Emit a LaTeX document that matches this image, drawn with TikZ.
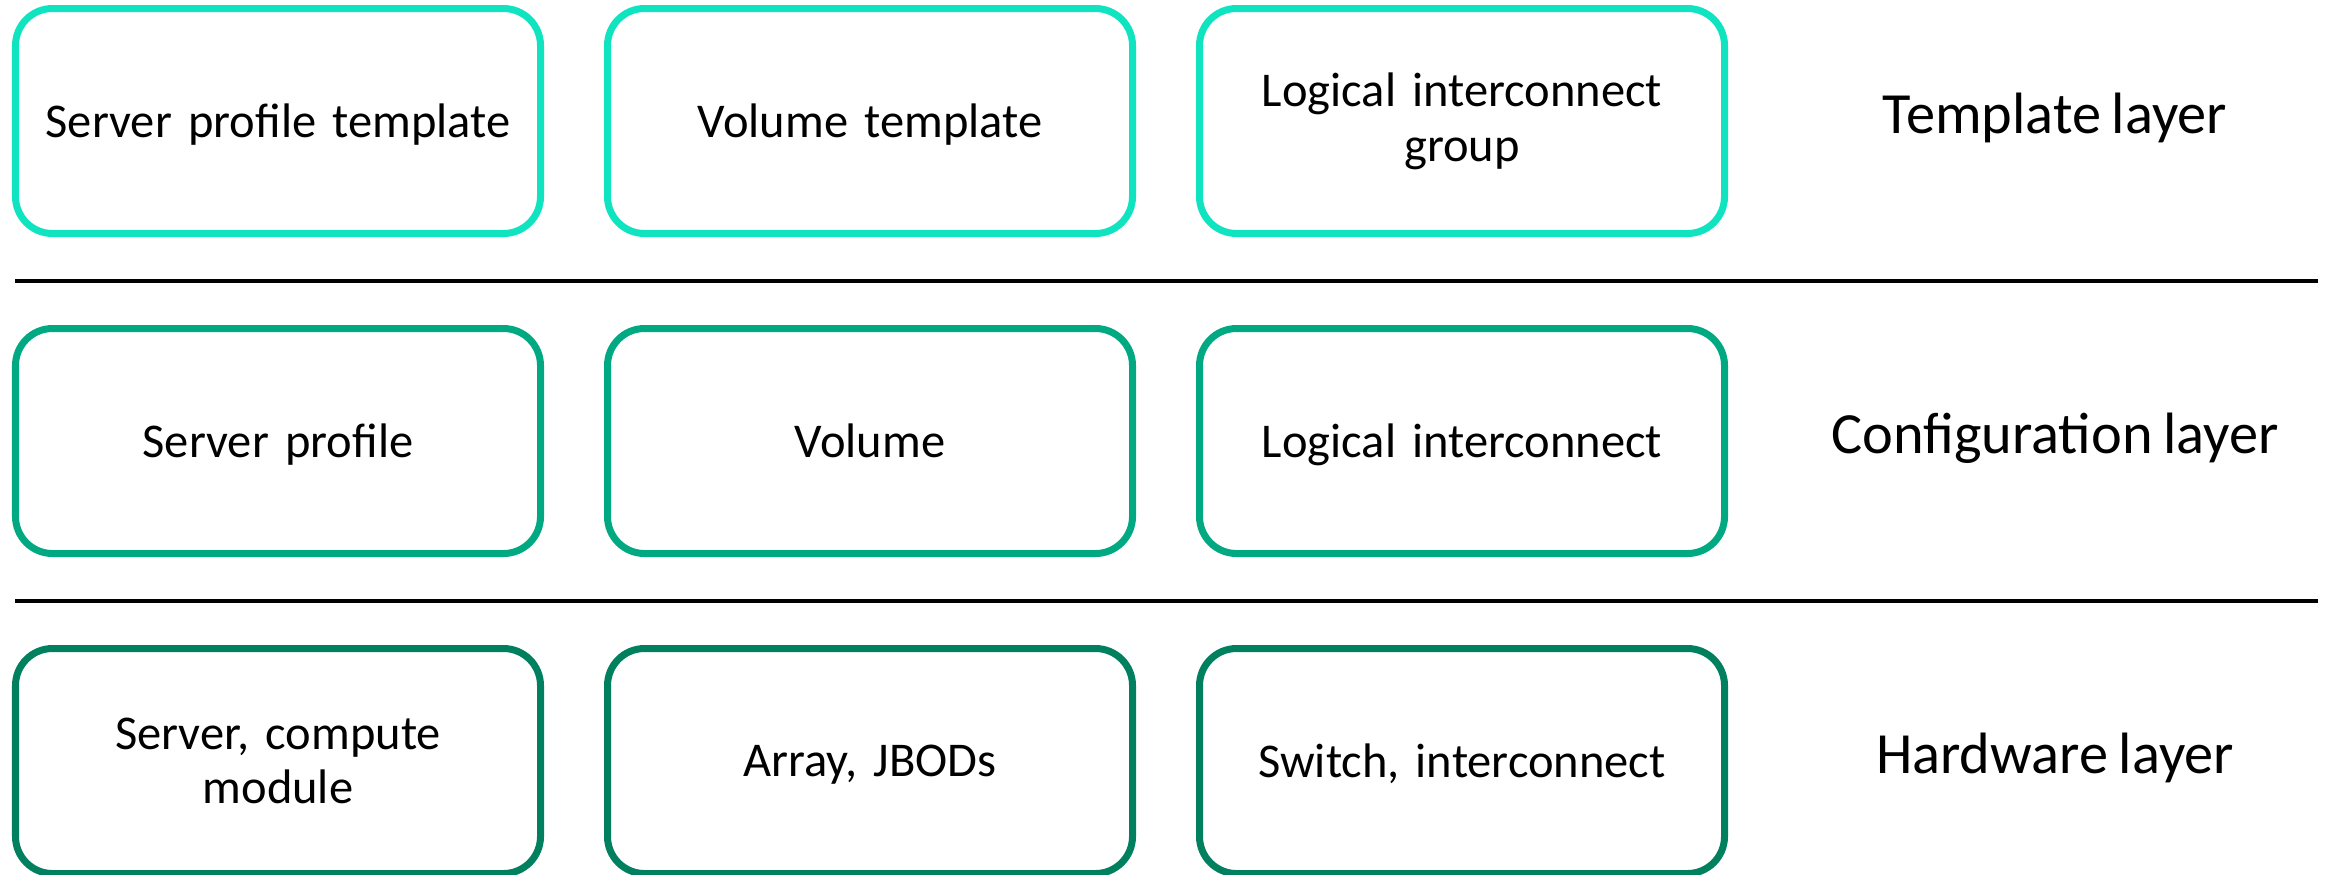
\documentclass[tikz,border=0pt]{standalone}
\usepackage{fontspec}
\setmainfont[WordSpace=0.8]{Carlito}
\definecolor{tealtop}{HTML}{0FE3C0}
\definecolor{tealmid}{HTML}{01A982}
\definecolor{tealbot}{HTML}{01805F}
\begin{document}
\begin{tikzpicture}

      \tikzset{layerbox/.style={draw, rounded corners=0.37cm, line width=0.07cm, inner sep=0pt, minimum width=5.25cm, minimum height=2.25cm, text width=4.9cm, align=center, font=\fontsize{13.8}{15.6}\selectfont},
               oneline/.style={layerbox, text depth=0pt},
               layername/.style={font=\fontsize{16.6}{19}\selectfont},
               divider/.style={line width=0.04cm}}
      \useasboundingbox (0,0) rectangle (23.25,-8.74);
%% Template layer
      	\node[oneline, draw=tealtop] (spt) at (2.78,-1.21) {Server profile template};
      	\node[oneline, draw=tealtop] (vt) at (8.70,-1.21) {Volume template};
    	\node[layerbox, draw=tealtop] (lig) at (14.62,-1.21) {Logical interconnect\\group};
  	    \node[layername] (tl) at (20.55,-1.18) {Template layer};
%% Configuration layer
      	\node[oneline, draw=tealmid] (sp) at (2.78,-4.41) {Server profile};
      	\node[oneline, draw=tealmid] (vol) at (8.70,-4.41) {Volume};
    	\node[oneline, draw=tealmid] (li) at (14.62,-4.41) {Logical interconnect};
  	    \node[layername] (cl) at (20.55,-4.38) {Configuration layer};
%% Hardware layer
      	\node[layerbox, draw=tealbot] (srv) at (2.78,-7.61) {Server, compute\\module};
      	\node[oneline, draw=tealbot] (arr) at (8.70,-7.61) {Array, JBODs};
    	\node[oneline, draw=tealbot] (sw) at (14.62,-7.61) {Switch, interconnect};
  	    \node[layername] (hl) at (20.55,-7.58) {Hardware layer};
%Dividers
		\draw[divider] (0.15,-2.81) -- (23.18,-2.81);
		\draw[divider] (0.15,-6.01) -- (23.18,-6.01);

	\end{tikzpicture}
\end{document}
